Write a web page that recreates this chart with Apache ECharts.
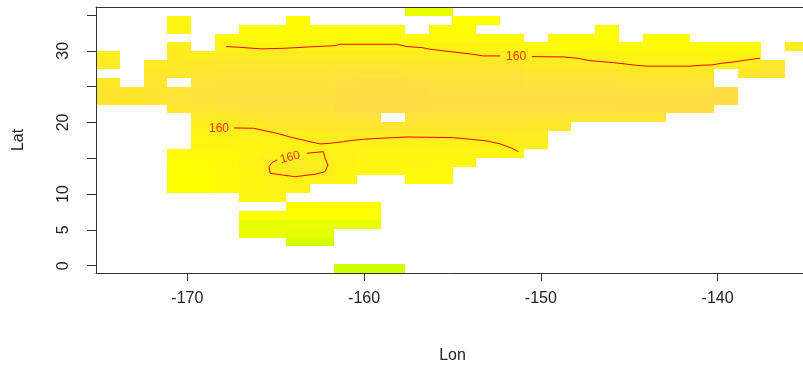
<!DOCTYPE html>
<html><head><meta charset="utf-8">
<script src="https://cdn.jsdelivr.net/npm/echarts@6/dist/echarts.min.js"></script>
<style>html,body{margin:0;padding:0;background:#fff;}#c{width:803px;height:367px;}</style>
</head><body><div id="c"></div>
<script>
const n = null;
// grid point longitudes (columns, west -> east)
const lons = [-174.50,-173.15,-171.81,-170.46,-169.12,-167.77,-166.43,-165.08,-163.74,-162.40,
  -161.05,-159.71,-158.36,-157.02,-155.67,-154.33,-152.98,-151.64,-150.29,-148.95,
  -147.60,-146.26,-144.91,-143.57,-142.23,-140.88,-139.54,-138.19,-136.85,-135.50];
// grid point latitudes (rows, north -> south)
const lats = [35.50,34.26,33.02,31.79,30.55,29.31,28.07,26.83,25.60,24.36,
  23.12,21.88,20.65,19.41,18.17,16.93,15.69,14.46,13.22,11.98,
  10.74,9.50,8.27,7.03,5.79,4.55,3.31,2.08,0.84,-0.40];
// cell values (rows north -> south, columns west -> east)
const zRows = [
 [n,n,n,n,n, n,n,n,n,n, n,n,n,146,146, n,n,n,n,n, n,n,n,n,n, n,n,n,n,n],
 [n,n,n,156,n, n,n,n,152,n, n,n,n,n,n, 150,150,n,n,n, n,n,n,n,n, n,n,n,n,n],
 [n,n,n,157,n, n,152,152,152,152, 152,152,152,n,151, 151,n,n,n,n, n,150,n,n,n, n,n,n,n,n],
 [n,n,n,n,n, 155,154,154,154,154, 154,154,154,153,153, 153,153,153,n,152, 152,152,n,151,151, n,n,n,n,n],
 [n,n,n,160,n, 158,157,157,157,157, 157,157,157,156,156, 156,156,156,155,154, 154,154,153,153,153, 153,153,153,n,162],
 [161,n,n,162,161, 162,162,162,162,162, 162,162,162,162,161, 161,160,160,159,159, 158,158,156,156,156, 156,156,156,n,n],
 [162,n,163,164,165, 166,166,166,166,166, 166,166,166,165,165, 165,165,165,163,163, 163,163,160,160,160, 160,161,161,165,n],
 [n,n,165,165,167, 168,168,168,168,168, 169,169,169,169,169, 169,169,169,167,167, 167,167,165,165,165, 165,n,166,167,n],
 [164,n,166,n,169, 170,170,170,170,170, 172,173,173,172,171, 171,171,171,170,170, 170,170,169,169,169, 169,n,n,n,n],
 [165,165,167,168,170, 171,171,171,171,171, 173,174,174,173,172, 172,172,172,172,172, 172,172,172,172,172, 172,173,n,n,n],
 [165,165,167,169,171, 172,172,172,172,172, 174,175,175,174,173, 173,173,173,173,173, 173,173,174,174,174, 174,174,n,n,n],
 [n,n,n,166,167, 168,170,170,170,170, 173,173,173,173,172, 172,172,172,172,172, 172,172,173,173,173, 173,n,n,n,n],
 [n,n,n,n,163, 164,166,167,167,167, 170,170,n,170,169, 169,169,169,168,168, 168,168,168,168,n, n,n,n,n,n],
 [n,n,n,n,160, 161,163,164,165,165, 166,166,166,166,166, 166,166,166,165,164, n,n,n,n,n, n,n,n,n,n],
 [n,n,n,n,157, 158,159,160,160,161, 162,162,162,162,162, 162,162,162,163,n, n,n,n,n,n, n,n,n,n,n],
 [n,n,n,n,155, 156,156,157,157,158, 158,158,158,158,158, 158,158,159,160,n, n,n,n,n,n, n,n,n,n,n],
 [n,n,n,153,154, 155,156,158,159,159, 158,157,157,157,156, 156,156,156,n,n, n,n,n,n,n, n,n,n,n,n],
 [n,n,n,151,152, 155,158,161,162,161, 158,156,156,156,155, 155,n,n,n,n, n,n,n,n,n, n,n,n,n,n],
 [n,n,n,150,151, 154,157,161,162,161, 157,155,155,155,155, n,n,n,n,n, n,n,n,n,n, n,n,n,n,n],
 [n,n,n,150,150, 153,156,158,159,158, 156,n,n,154,153, n,n,n,n,n, n,n,n,n,n, n,n,n,n,n],
 [n,n,n,150,150, 153,156,157,158,n, n,n,n,n,n, n,n,n,n,n, n,n,n,n,n, n,n,n,n,n],
 [n,n,n,n,n, n,156,156,n,n, n,n,n,n,n, n,n,n,n,n, n,n,n,n,n, n,n,n,n,n],
 [n,n,n,n,n, n,n,n,150,150, 150,150,n,n,n, n,n,n,n,n, n,n,n,n,n, n,n,n,n,n],
 [n,n,n,n,n, n,150,150,150,150, 150,150,n,n,n, n,n,n,n,n, n,n,n,n,n, n,n,n,n,n],
 [n,n,n,n,n, n,146,146,146,146, 146,146,n,n,n, n,n,n,n,n, n,n,n,n,n, n,n,n,n,n],
 [n,n,n,n,n, n,146,146,145,145, n,n,n,n,n, n,n,n,n,n, n,n,n,n,n, n,n,n,n,n],
 [n,n,n,n,n, n,n,n,141,141, n,n,n,n,n, n,n,n,n,n, n,n,n,n,n, n,n,n,n,n],
 [n,n,n,n,n, n,n,n,n,n, n,n,n,n,n, n,n,n,n,n, n,n,n,n,n, n,n,n,n,n],
 [n,n,n,n,n, n,n,n,n,n, n,n,n,n,n, n,n,n,n,n, n,n,n,n,n, n,n,n,n,n],
 [n,n,n,n,n, n,n,n,n,n, 140,140,140,n,n, n,n,n,n,n, n,n,n,n,n, n,n,n,n,n]
];
// 160 contour lines [lon, lat]
const contourNorthA = [[-167.81,30.59],[-167.11,30.50],[-165.79,30.27],[-164.47,30.36],[-163.15,30.54],
  [-161.64,30.73],[-161.36,30.92],[-158.15,30.92],[-157.58,30.59],[-156.73,30.45],[-156.26,30.22],
  [-155.13,29.89],[-154.00,29.57],[-153.25,29.29],[-152.30,29.29]];
const contourNorthB = [[-150.51,29.19],[-148.72,29.15],[-147.96,28.97],[-147.21,28.63],[-146.55,28.49],
  [-145.89,28.35],[-145.23,28.17],[-144.66,27.99],[-144.00,27.85],[-141.61,27.85],[-140.89,27.99],
  [-140.32,28.03],[-139.76,28.27],[-139.19,28.41],[-138.44,28.69],[-137.59,28.97]];
const contourSouth = [[-167.36,19.23],[-166.26,19.19],[-164.94,18.49],[-164.02,17.86],[-162.49,17.00],
  [-161.92,17.09],[-161.17,17.32],[-160.79,17.46],[-160.04,17.65],[-159.09,17.79],[-157.58,17.97],
  [-154.95,17.88],[-154.00,17.65],[-153.06,17.42],[-152.30,17.00],[-151.64,16.40],[-151.27,15.92]];
const contourLoop = [[-163.24,15.70],[-162.30,15.92],[-162.21,15.00],[-162.05,14.06],[-162.21,13.13],
  [-162.77,12.77],[-163.90,12.43],[-164.66,12.67],[-165.32,12.91],[-165.38,13.83],[-165.22,14.39],
  [-164.94,14.76]];
const contourLabels = [
  {value:[-151.40,29.22], text:'160', angle:0},
  {value:[-168.21,19.16], text:'160', angle:0},
  {value:[-164.19,15.11], text:'160', angle:15}
];
const xTicks = [-170,-160,-150,-140];
const yTicks = [0,5,10,15,20,25,30,35];
const yTickLabels = [0,5,10,20,30];
const xLabel = 'Lon', yLabel = 'Lat';

const X_MIN = -175.17, X_MAX = -134.83, Y_MIN = -1.02, Y_MAX = 36.12;
const D_LON = 1.3448, D_LAT = 1.2379;
const FONT = "'Liberation Sans', Arial, sans-serif";

const cells = [];
zRows.forEach((row, r) => row.forEach((v, c) => { if (v !== null) cells.push([lons[c], lats[r], v]); }));

const chart = echarts.init(document.getElementById('c'), null, {renderer:'canvas'});
const lineSeries = (data) => ({type:'line', data, showSymbol:false, symbol:'none', smooth:false,
  lineStyle:{color:'#ff0000', width:1}, silent:true, z:5, animation:false});
const frameAxis = {axisLine:{show:true, onZero:false, lineStyle:{color:'#333', width:1}},
  axisTick:{show:false}, axisLabel:{show:false}, splitLine:{show:false}, z:10};
chart.setOption({
  animation:false,
  backgroundColor:'#ffffff',
  grid:{left:96, right:-6, top:7, bottom:94, outerBoundsMode:'none', containLabel:false},
  visualMap:{show:false, type:'continuous', min:140, max:175, dimension:2, seriesIndex:0,
    inRange:{color:['#CCFF00','#E5FF00','#FFFF00','#FFF70E','#FFEF1C','#FFE82C','#FFE23C','#FFDC48']}},
  xAxis:[
    {type:'value', position:'bottom', min:X_MIN, max:X_MAX, z:10,
      axisLine:{show:true, onZero:false, lineStyle:{color:'#333', width:1}},
      axisTick:{show:true, customValues:xTicks, length:8, lineStyle:{color:'#333'}},
      axisLabel:{customValues:xTicks, color:'#222', fontSize:16, fontFamily:FONT, margin:18},
      splitLine:{show:false},
      name:xLabel, nameLocation:'middle', nameGap:75,
      nameTextStyle:{color:'#222', fontSize:16, fontFamily:FONT}},
    Object.assign({type:'value', position:'top', min:X_MIN, max:X_MAX}, frameAxis)
  ],
  yAxis:[
    {type:'value', position:'left', min:Y_MIN, max:Y_MAX, z:10,
      axisLine:{show:true, onZero:false, lineStyle:{color:'#333', width:1}},
      axisTick:{show:true, customValues:yTicks, length:9, lineStyle:{color:'#333'}},
      axisLabel:{customValues:yTickLabels, rotate:90, color:'#222', fontSize:16, fontFamily:FONT, margin:24},
      splitLine:{show:false},
      name:yLabel, nameLocation:'middle', nameGap:69, nameRotate:90,
      nameTextStyle:{color:'#222', fontSize:16, fontFamily:FONT}},
    Object.assign({type:'value', position:'right', min:Y_MIN, max:Y_MAX}, frameAxis)
  ],
  series:[
    {type:'custom', data:cells, clip:true, z:2, silent:true,
      renderItem:function(params, api){
        const lon = api.value(0), lat = api.value(1);
        const p0 = api.coord([lon - D_LON/2, lat + D_LAT/2]);
        const p1 = api.coord([lon + D_LON/2, lat - D_LAT/2]);
        const x0 = Math.round(p0[0]), y0 = Math.round(p0[1]);
        const x1 = Math.round(p1[0]), y1 = Math.round(p1[1]);
        return {type:'rect', shape:{x:x0, y:y0, width:x1-x0, height:y1-y0},
          style:{fill:api.visual('color')}};
      }},
    lineSeries(contourNorthA),
    lineSeries(contourNorthB),
    lineSeries(contourSouth),
    lineSeries(contourLoop),
    {type:'scatter', symbolSize:0, silent:true, z:6,
      data:contourLabels.map(d => ({value:d.value, label:{rotate:d.angle, formatter:d.text}})),
      label:{show:true, position:'inside', color:'#ff0000', fontSize:12, fontFamily:FONT}}
  ]
});
</script></body></html>
